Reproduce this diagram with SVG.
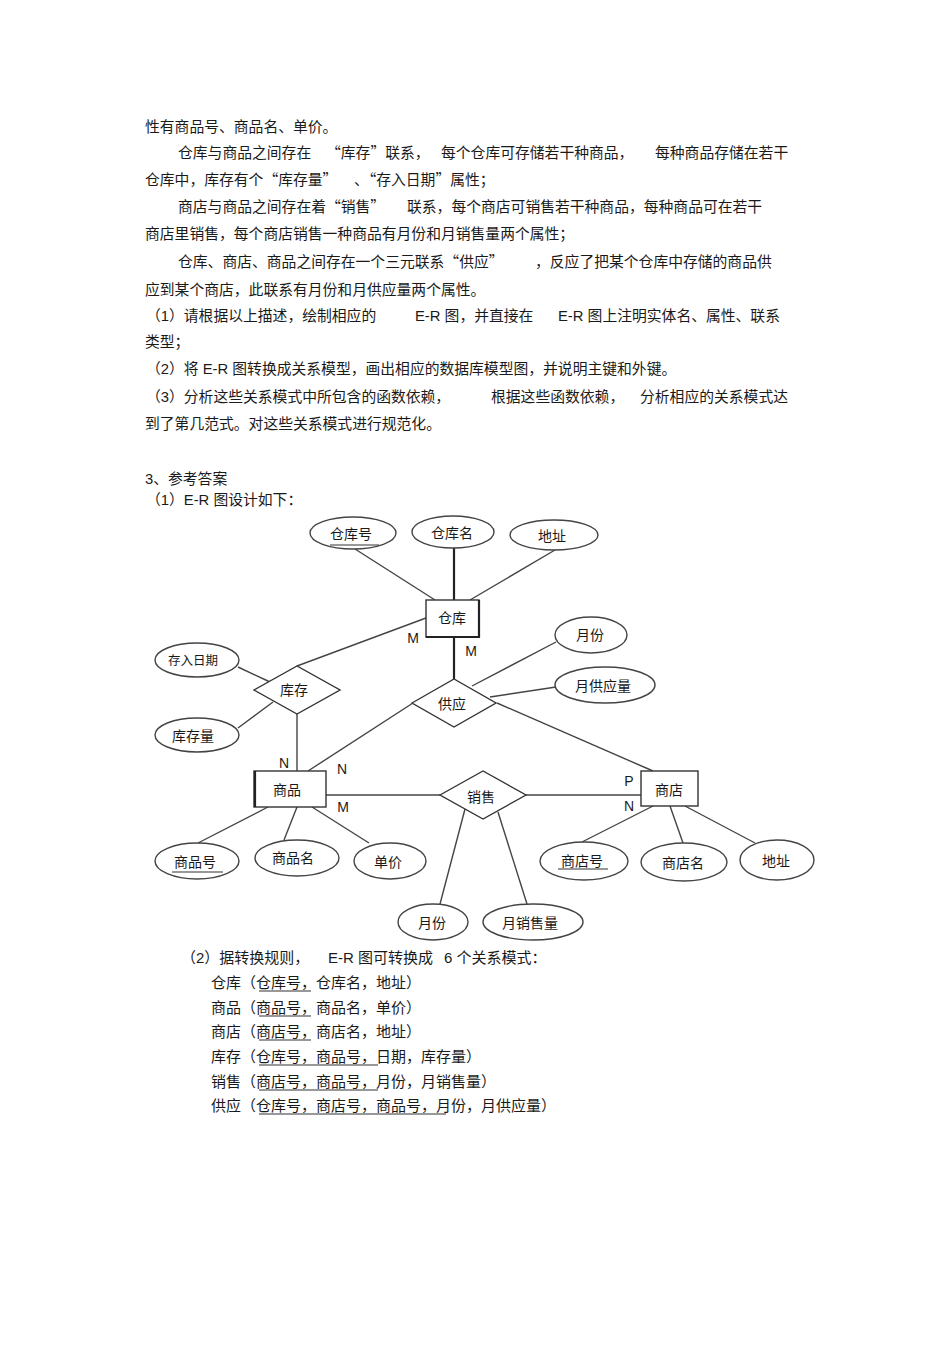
<svg xmlns="http://www.w3.org/2000/svg" width="950" height="1345" viewBox="0 0 950 1345">
<style>
text{font-family:"Liberation Sans","Noto Sans CJK SC",sans-serif;fill:#1a1a1a}
.p{font-size:14.8px}
.q{font-size:14.8px;font-family:"Noto Sans CJK SC",sans-serif}
.r{font-size:15px}
.t{font-size:14px;text-anchor:middle}
.s{font-size:12.5px;text-anchor:middle}
.c{font-size:14px;text-anchor:middle}
.e{fill:#fff;stroke:#444;stroke-width:1.4}
.b{fill:#fff;stroke:#333;stroke-width:1.4}
.l{stroke:#444;stroke-width:1.4;fill:none}
.k{stroke:#222;stroke-width:2.2;fill:none}
.u{stroke:#333;stroke-width:1.2}
</style>
<rect width="950" height="1345" fill="#fff"/>
<g id="body-text">
<text class="p" x="145" y="132">性有商品号、商品名、单价。</text>
<text class="p" x="178" y="158">仓库与商品之间存在</text>
<text class="q" x="326" y="158">“库存”联系，</text>
<text class="p" x="441" y="158">每个仓库可存储若干种商品，</text>
<text class="p" x="655" y="158">每种商品存储在若干</text>
<text class="q" x="145" y="185">仓库中，库存有个“库存量”</text>
<text class="q" x="354" y="185">、“存入日期”属性；</text>
<text class="q" x="178" y="212">商店与商品之间存在着“销售”</text>
<text class="p" x="407" y="212">联系，每个商店可销售若干种商品，每种商品可在若干</text>
<text class="p" x="145" y="239">商店里销售，每个商店销售一种商品有月份和月销售量两个属性；</text>
<text class="q" x="178" y="267">仓库、商店、商品之间存在一个三元联系“供应”</text>
<text class="p" x="535" y="267">，反应了把某个仓库中存储的商品供</text>
<text class="p" x="145" y="295">应到某个商店，此联系有月份和月供应量两个属性。</text>
<text class="p" x="146" y="321">（1）请根据以上描述，绘制相应的</text>
<text class="p" x="415" y="321">E-R 图，并直接在</text>
<text class="p" x="558" y="321">E-R 图上注明实体名、属性、联系</text>
<text class="p" x="145" y="347">类型；</text>
<text class="p" x="146" y="374">（2）将 E-R 图转换成关系模型，画出相应的数据库模型图，并说明主键和外键。</text>
<text class="p" x="146" y="402">（3）分析这些关系模式中所包含的函数依赖，</text>
<text class="p" x="491" y="402">根据这些函数依赖，</text>
<text class="p" x="640" y="402">分析相应的关系模式达</text>
<text class="p" x="145" y="429">到了第几范式。对这些关系模式进行规范化。</text>
<text class="p" x="145" y="484">3、参考答案</text>
<text class="p" x="146" y="505">（1）E-R 图设计如下：</text>
</g>
<g id="connectors">
<line class="l" x1="355" y1="549" x2="435" y2="600"/>
<line class="k" x1="454" y1="548" x2="454" y2="600"/>
<line class="l" x1="555" y1="550" x2="470" y2="600"/>
<line class="l" x1="426" y1="618" x2="297" y2="666"/>
<line class="k" x1="454" y1="637" x2="454" y2="679"/>
<line class="l" x1="238" y1="667" x2="270" y2="682"/>
<line class="l" x1="238" y1="728" x2="273" y2="702"/>
<line class="l" x1="297" y1="714" x2="297" y2="771"/>
<line class="l" x1="413" y1="703" x2="308" y2="771"/>
<line class="l" x1="472" y1="686" x2="556" y2="642"/>
<line class="l" x1="490" y1="697" x2="556" y2="687"/>
<line class="l" x1="497" y1="703" x2="653" y2="771"/>
<line class="l" x1="326" y1="795" x2="440" y2="795"/>
<line class="l" x1="526" y1="795" x2="641" y2="795"/>
<line class="l" x1="198" y1="843" x2="268" y2="807"/>
<line class="l" x1="284" y1="840" x2="297" y2="807"/>
<line class="l" x1="369" y1="843" x2="312" y2="807"/>
<line class="l" x1="440" y1="904" x2="465" y2="809"/>
<line class="l" x1="527" y1="904" x2="498" y2="812"/>
<line class="l" x1="582" y1="842" x2="653" y2="806"/>
<line class="l" x1="683" y1="843" x2="670" y2="806"/>
<line class="l" x1="755" y1="843" x2="685" y2="806"/>
<text class="c" x="413" y="643">M</text>
<text class="c" x="471" y="656">M</text>
<text class="c" x="284" y="768">N</text>
<text class="c" x="342" y="774">N</text>
<text class="c" x="343" y="812">M</text>
<text class="c" x="629" y="786">P</text>
<text class="c" x="629" y="811">N</text>
</g>
<g id="entity-cangku">
<rect class="b" x="426" y="600" width="53" height="37"/>
<polyline class="k" points="479,600 479,637 426,637"/>
<text class="t" x="452" y="623">仓库</text>
</g>
<g id="entity-shangpin">
<rect class="b" x="254" y="771" width="72" height="36"/>
<line class="k" x1="255" y1="771" x2="255" y2="807"/>
<text class="t" x="287" y="795">商品</text>
</g>
<g id="entity-shangdian">
<rect class="b" x="641" y="771" width="57" height="35"/>
<text class="t" x="669" y="795">商店</text>
</g>
<g id="rel-kucun">
<polygon class="b" points="254,690 297,666 340,690 297,714"/>
<text class="t" x="294" y="695">库存</text>
</g>
<g id="rel-gongying">
<polygon class="b" points="412,703 454,679 496,703 454,727"/>
<text class="t" x="452" y="709">供应</text>
</g>
<g id="rel-xiaoshou">
<polygon class="b" points="440,795 483,771 526,795 483,819"/>
<text class="t" x="481" y="802">销售</text>
</g>
<g id="attr-cangkuhao">
<ellipse class="e" cx="353" cy="533" rx="43" ry="16"/>
<text class="t" x="351" y="539">仓库号</text>
<line class="u" x1="330" y1="545" x2="379" y2="545"/>
</g>
<g id="attr-cangkuming">
<ellipse class="e" cx="453" cy="532" rx="41" ry="16"/>
<text class="t" x="452" y="538">仓库名</text>
</g>
<g id="attr-dizhi-ck">
<ellipse class="e" cx="554" cy="535" rx="44" ry="15"/>
<text class="t" x="552" y="541">地址</text>
</g>
<g id="attr-yuefen-gy">
<ellipse class="e" cx="591" cy="635" rx="36" ry="18"/>
<text class="t" x="590" y="640">月份</text>
</g>
<g id="attr-yuegongyingliang">
<ellipse class="e" cx="605" cy="685" rx="50" ry="18"/>
<text class="t" x="603" y="691">月供应量</text>
</g>
<g id="attr-crrq">
<ellipse class="e" cx="197" cy="660" rx="42" ry="17"/>
<text class="s" x="193" y="665">存入日期</text>
</g>
<g id="attr-kucunliang">
<ellipse class="e" cx="197" cy="735" rx="42" ry="17"/>
<text class="t" x="193" y="741">库存量</text>
</g>
<g id="attr-shangpinhao">
<ellipse class="e" cx="197" cy="861" rx="42" ry="18"/>
<text class="t" x="195" y="867">商品号</text>
<line class="u" x1="172" y1="872" x2="223" y2="872"/>
</g>
<g id="attr-shangpinming">
<ellipse class="e" cx="297" cy="858" rx="42" ry="18"/>
<text class="t" x="293" y="863">商品名</text>
</g>
<g id="attr-danjia">
<ellipse class="e" cx="390" cy="861" rx="36" ry="18"/>
<text class="t" x="388" y="867">单价</text>
</g>
<g id="attr-yuefen-xs">
<ellipse class="e" cx="433" cy="922" rx="35" ry="18"/>
<text class="t" x="432" y="928">月份</text>
</g>
<g id="attr-yuexiaoshouliang">
<ellipse class="e" cx="533" cy="922" rx="50" ry="18"/>
<text class="t" x="530" y="928">月销售量</text>
</g>
<g id="attr-shangdianhao">
<ellipse class="e" cx="584" cy="861" rx="44" ry="19"/>
<text class="t" x="582" y="866">商店号</text>
<line class="u" x1="558" y1="869" x2="608" y2="869"/>
</g>
<g id="attr-shangdianming">
<ellipse class="e" cx="684" cy="862" rx="43" ry="19"/>
<text class="t" x="683" y="868">商店名</text>
</g>
<g id="attr-dizhi-sd">
<ellipse class="e" cx="777" cy="860" rx="37" ry="20"/>
<text class="t" x="776" y="866">地址</text>
</g>
<g id="relations-text">
<text class="r" x="181" y="963">（2）据转换规则，</text>
<text class="r" x="328" y="963">E-R 图可转换成</text>
<text class="r" x="444" y="963">6 个关系模式：</text>
<text class="r" x="211" y="988">仓库（仓库号，仓库名，地址）</text>
<text class="r" x="211" y="1013">商品（商品号，商品名，单价）</text>
<text class="r" x="211" y="1037">商店（商店号，商店名，地址）</text>
<text class="r" x="211" y="1062">库存（仓库号，商品号，日期，库存量）</text>
<text class="r" x="211" y="1087">销售（商店号，商品号，月份，月销售量）</text>
<text class="r" x="211" y="1111">供应（仓库号，商店号，商品号，月份，月供应量）</text>
<line class="u" x1="259" y1="991" x2="311" y2="991"/>
<line class="u" x1="259" y1="1016" x2="311" y2="1016"/>
<line class="u" x1="259" y1="1040" x2="311" y2="1040"/>
<line class="u" x1="259" y1="1065" x2="378" y2="1065"/>
<line class="u" x1="259" y1="1090" x2="378" y2="1090"/>
<line class="u" x1="259" y1="1114" x2="446" y2="1114"/>
</g>
</svg>
